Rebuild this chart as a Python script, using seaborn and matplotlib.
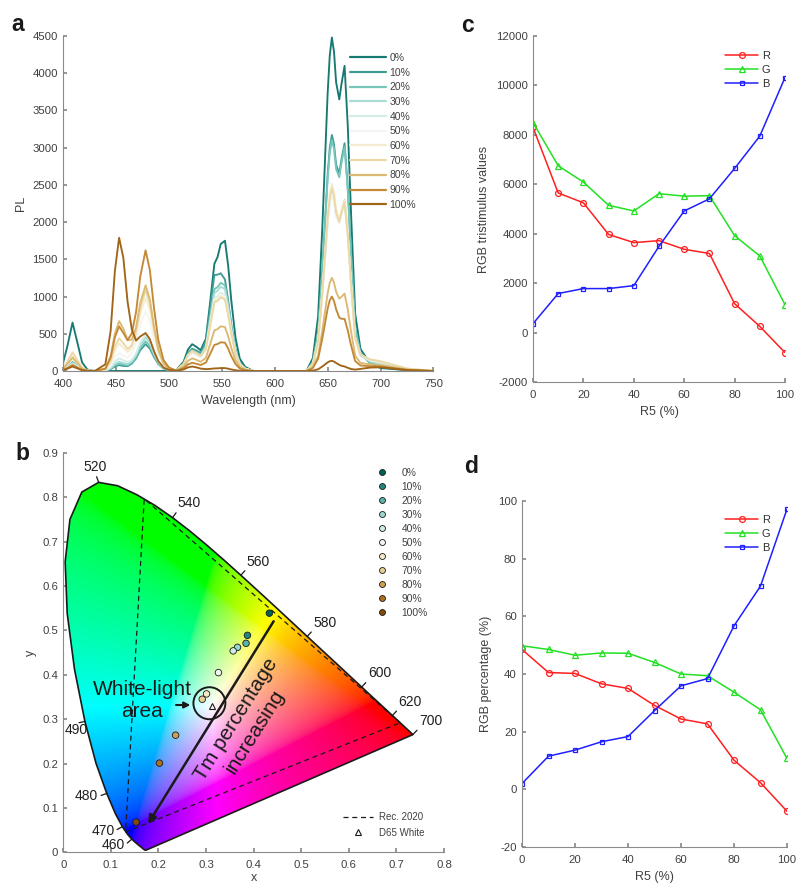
import numpy as np
import pandas as pd
import matplotlib
matplotlib.use('Agg')
import matplotlib.pyplot as plt
from matplotlib.patches import Polygon, Ellipse
from matplotlib.lines import Line2D
import seaborn as sns

sns.set_theme(style='ticks')
plt.rcParams['font.family'] = ['Liberation Sans', 'DejaVu Sans']
plt.rcParams.update({
    'xtick.direction': 'in', 'ytick.direction': 'in',
    'axes.edgecolor': '#8a8a8a', 'xtick.color': '#8a8a8a', 'ytick.color': '#8a8a8a',
    'xtick.labelcolor': '#404040', 'ytick.labelcolor': '#404040',
    'axes.labelcolor': '#404040', 'xtick.labelsize': 8.2, 'ytick.labelsize': 8.2,
    'axes.labelsize': 9, 'axes.linewidth': 0.8,
    'xtick.major.size': 3, 'ytick.major.size': 3,
    'xtick.major.pad': 5.8, 'ytick.major.pad': 3.8,
    'axes.unicode_minus': False,
})

# ---------------- data ----------------
LEVELS = ['0%', '10%', '20%', '30%', '40%', '50%', '60%', '70%', '80%', '90%', '100%']
R5 = [0, 10, 20, 30, 40, 50, 60, 70, 80, 90, 100]

# panel c: RGB tristimulus values
TRI_R = [8300, 5650, 5250, 3970, 3640, 3720, 3370, 3200, 1170, 250, -810]
TRI_G = [8500, 6750, 6090, 5150, 4920, 5620, 5520, 5540, 3920, 3100, 1130]
TRI_B = [360, 1580, 1780, 1780, 1900, 3490, 4920, 5410, 6640, 7950, 10320]

# panel d: RGB percentage
PCT_R = [48.5, 40.5, 40.2, 36.6, 35.0, 29.1, 24.4, 22.7, 10.1, 2.3, -7.6]
PCT_G = [49.8, 48.5, 46.5, 47.3, 47.2, 44.0, 40.0, 39.4, 33.7, 27.6, 10.7]
PCT_B = [2.0, 11.5, 13.6, 16.5, 18.3, 27.3, 35.9, 38.4, 56.7, 70.5, 97.2]

# panel a: wavelength grid, band profiles (normalised) and band heights per level
WL = [400, 404, 409, 414, 418, 423, 430, 440, 445, 449, 453, 457, 461, 465, 469,
      473, 478, 482, 486, 490, 495, 500, 507, 514, 518, 522, 526, 530, 535, 539,
      543, 546, 549, 553, 556, 559, 563, 567, 572, 580, 600, 630, 636, 641, 645,
      650, 652, 654, 656, 658, 661, 663, 666, 669, 672, 676, 681, 690, 700, 710,
      725, 750]

P410_WL = [400, 404, 409, 414, 418, 423, 430]
P410 = [0.16, 0.5, 1.0, 0.55, 0.18, 0.03, 0.0]
P453_WL = [440, 445, 449, 453, 457, 461, 465, 469, 473, 478]
P453 = [0.05, 0.3, 0.75, 1.0, 0.85, 0.5, 0.25, 0.1, 0.04, 0.0]
P478_WL = [461, 465, 469, 473, 478, 482, 486, 490, 495, 500, 507]
P478 = [0.07, 0.22, 0.45, 0.77, 1.0, 0.84, 0.52, 0.26, 0.09, 0.03, 0.0]
P522_WL = [507, 514, 518, 522, 526, 530, 535, 539, 543]
P522 = [0.03, 0.35, 0.8, 1.0, 0.8, 0.5, 0.28, 0.12, 0.0]
P543_WL = [526, 530, 535, 539, 543, 546, 549, 553, 556, 559, 563]
P543 = [0.03, 0.08, 0.27, 0.68, 1.0, 0.85, 0.6, 0.3, 0.12, 0.05, 0.0]
P553_WL = [539, 543, 546, 549, 553, 556, 559, 563, 567, 572, 580]
P553 = [0.03, 0.15, 0.35, 0.7, 1.0, 0.92, 0.64, 0.32, 0.12, 0.04, 0.0]
P654_WL = [630, 636, 641, 645, 650, 652, 654, 656, 658, 661, 663, 666, 669, 672, 676]
P654 = [0.0, 0.04, 0.17, 0.45, 0.85, 0.96, 1.0, 0.9, 0.74, 0.47, 0.3, 0.15, 0.06, 0.02, 0.0]
P666_WL = [650, 652, 654, 656, 658, 661, 663, 666, 669, 672, 676, 681, 690, 700]
P666 = [0.02, 0.03, 0.05, 0.12, 0.2, 0.47, 0.74, 1.0, 0.88, 0.6, 0.22, 0.08, 0.02, 0.0]
P700_WL = [676, 681, 690, 700, 710, 725, 750]
P700 = [0.2, 0.5, 0.9, 1.0, 0.7, 0.25, 0.0]

H410 = [650, 120, 110, 100, 100, 160, 200, 250, 180, 80, 60]
H453 = [0, 80, 100, 125, 170, 240, 370, 440, 670, 600, 1790]
H478 = [0, 360, 400, 450, 490, 800, 980, 1080, 1150, 1620, 510]
H522 = [360, 300, 280, 260, 240, 250, 260, 270, 170, 110, 60]
H543 = [1233, 1158, 971, 927, 866, 848, 832, 813, 478, 307, 30]
H553 = [1380, 883, 859, 822, 760, 746, 720, 716, 447, 288, 30]
H654 = [4307, 3040, 2972, 2332, 2283, 2305, 2424, 2355, 1207, 972, 135]
H666 = [3454, 2604, 2564, 1950, 1938, 1904, 1926, 1907, 859, 554, 40]
H700 = [40, 60, 70, 100, 110, 130, 130, 130, 80, 60, 50]

# panel b: CIE 1931 spectral locus
CIE_WL = [380, 385, 390, 395, 400, 405, 410, 415, 420, 425, 430, 435, 440, 445,
          450, 455, 460, 465, 470, 475, 480, 485, 490, 495, 500, 505, 510, 515,
          520, 525, 530, 535, 540, 545, 550, 555, 560, 565, 570, 575, 580, 585,
          590, 595, 600, 605, 610, 615, 620, 625, 630, 635, 640, 645, 650, 655,
          660, 665, 670, 675, 680, 685, 690, 695, 700]
CIE_X = [0.1741, 0.1740, 0.1738, 0.1736, 0.1733, 0.1730, 0.1726, 0.1721, 0.1714,
         0.1703, 0.1689, 0.1669, 0.1644, 0.1611, 0.1566, 0.1510, 0.1440, 0.1355, 0.1241,
         0.1096, 0.0913, 0.0687, 0.0454, 0.0235, 0.0082, 0.0039, 0.0139, 0.0389, 0.0743,
         0.1142, 0.1547, 0.1929, 0.2296, 0.2658, 0.3016, 0.3373, 0.3731, 0.4087, 0.4441,
         0.4788, 0.5125, 0.5448, 0.5752, 0.6029, 0.6270, 0.6482, 0.6658, 0.6801, 0.6915,
         0.7006, 0.7079, 0.7140, 0.7190, 0.7230, 0.7260, 0.7283, 0.7300, 0.7311, 0.7320,
         0.7327, 0.7334, 0.7340, 0.7344, 0.7346, 0.7347]
CIE_Y = [0.0050, 0.0050, 0.0049, 0.0049, 0.0048, 0.0048, 0.0048, 0.0048, 0.0051,
         0.0058, 0.0069, 0.0086, 0.0109, 0.0138, 0.0177, 0.0227, 0.0297, 0.0399, 0.0578,
         0.0868, 0.1327, 0.2007, 0.2950, 0.4127, 0.5384, 0.6548, 0.7502, 0.8120, 0.8338,
         0.8262, 0.8059, 0.7816, 0.7543, 0.7243, 0.6923, 0.6589, 0.6245, 0.5896, 0.5547,
         0.5202, 0.4866, 0.4544, 0.4242, 0.3965, 0.3725, 0.3514, 0.3340, 0.3197, 0.3083,
         0.2993, 0.2920, 0.2859, 0.2809, 0.2770, 0.2740, 0.2717, 0.2700, 0.2689, 0.2680,
         0.2673, 0.2666, 0.2660, 0.2656, 0.2654, 0.2653]
LOCUS_LABELS = [460, 470, 480, 490, 520, 540, 560, 580, 600, 620, 700]
LABEL_ALIGN = {460: ('right', 'center'), 470: ('right', 'center'), 490: ('center', 'top')}
REC2020_X = [0.708, 0.170, 0.131, 0.708]
REC2020_Y = [0.292, 0.797, 0.046, 0.292]
D65 = (0.3127, 0.3290)
PT_X = [0.433, 0.387, 0.384, 0.366, 0.357, 0.326, 0.301, 0.292, 0.236, 0.202, 0.153]
PT_Y = [0.539, 0.489, 0.471, 0.462, 0.454, 0.405, 0.357, 0.345, 0.264, 0.201, 0.068]

pal_a = sns.color_palette('BrBG_r', 13)[1:-1]
pal_b = sns.color_palette('BrBG_r', 11)
RGB_COLS = ['#ff1f1f', '#22e022', '#1f1fff']

# ---------------- figure ----------------
W, H = 796, 883
fig = plt.figure(figsize=(W / 100, H / 100), dpi=100)


def box(l, t, r, b):
    return [l / W, 1 - b / H, (r - l) / W, (b - t) / H]


axa = fig.add_axes(box(63, 36, 433.5, 371))
axc = fig.add_axes(box(533, 36, 785, 382))
axb = fig.add_axes(box(63.3, 453, 444, 852.3))
axd = fig.add_axes(box(522, 501, 787, 847))
for ax in (axa, axb, axc, axd):
    sns.despine(ax=ax)

# ---- panel a: PL spectra
pos = {w: i for i, w in enumerate(WL)}


def on_grid(wls, vals):
    out = np.zeros(len(WL))
    for w, v in zip(wls, vals):
        out[pos[w]] = v
    return out


bands = [(P410_WL, P410, H410), (P453_WL, P453, H453), (P478_WL, P478, H478),
         (P522_WL, P522, H522), (P543_WL, P543, H543), (P553_WL, P553, H553),
         (P654_WL, P654, H654), (P666_WL, P666, H666), (P700_WL, P700, H700)]
spectra = []
for k in range(len(LEVELS)):
    spectra.append(sum(on_grid(bw, bp) * bh[k] for bw, bp, bh in bands))

df_a = pd.DataFrame({'wl': np.tile(WL, len(LEVELS)),
                     'pl': np.concatenate(spectra),
                     'level': np.repeat(LEVELS, len(WL))})
sns.lineplot(data=df_a, x='wl', y='pl', hue='level', hue_order=LEVELS,
             palette=pal_a, estimator=None, lw=1.35, legend=False, ax=axa)
axa.set_xlim(400, 750)
axa.set_ylim(0, 4500)
axa.set_xticks(range(400, 751, 50))
axa.set_yticks(range(0, 4501, 500))
axa.set_xlabel('Wavelength (nm)')
axa.set_ylabel('PL')
hand_a = [Line2D([], [], color=c, lw=1.6) for c in pal_a]
axa.legend(hand_a, LEVELS, loc='upper left', bbox_to_anchor=(350 / W, 1 - 53 / H),
           bbox_transform=fig.transFigure, frameon=False, fontsize=7.5,
           handlelength=3.5, handletextpad=0.3, labelspacing=0.45,
           borderpad=0, borderaxespad=0, labelcolor='#404040')

# ---- panel c / d: RGB lines


def rgb_panel(ax, series, ylim, yticks, ylabel, leg_top):
    for vals, col, mk, ms in zip(series, RGB_COLS, ['o', '^', 's'], [4.2, 4.4, 3.0]):
        sns.lineplot(x=R5, y=vals, color=col, marker=mk, markersize=ms,
                     markerfacecolor='none', markeredgecolor=col,
                     markeredgewidth=0.9, lw=1.1, ax=ax)
    ax.set_xlim(0, 100)
    ax.set_ylim(*ylim)
    ax.set_xticks(range(0, 101, 20))
    ax.set_yticks(yticks)
    ax.set_xlabel('R5 (%)')
    ax.set_ylabel(ylabel)
    ax.legend(ax.lines[:3], ['R', 'G', 'B'], loc='upper left',
              bbox_to_anchor=(725 / W, 1 - leg_top / H), bbox_transform=fig.transFigure,
              frameon=False, fontsize=8, handlelength=3.0, handletextpad=0.3,
              labelspacing=0.35, borderpad=0, borderaxespad=0, labelcolor='#303030')


rgb_panel(axc, [TRI_R, TRI_G, TRI_B], (-2000, 12000), range(-2000, 12001, 2000),
          'RGB tristimulus values', 51)
rgb_panel(axd, [PCT_R, PCT_G, PCT_B], (-20, 100), range(-20, 101, 20),
          'RGB percentage (%)', 515)

# ---- panel b: CIE chromaticity diagram
gx, gy = np.meshgrid(np.linspace(0, 0.8, 480), np.linspace(0, 0.9, 540))
gyy = np.clip(gy, 1e-3, None)
XYZ = np.stack([gx / gyy, np.ones_like(gx), (1 - gx - gy) / gyy], axis=-1)
M = np.array([[3.2406, -1.5372, -0.4986],
              [-0.9689, 1.8758, 0.0415],
              [0.0557, -0.2040, 1.0570]])
rgb = np.clip(XYZ @ M.T, 0, None)
rgb = rgb / (rgb.max(axis=-1, keepdims=True) + 1e-9)
rgb = np.where(rgb <= 0.0031308, 12.92 * rgb, 1.055 * rgb ** (1 / 2.4) - 0.055)
im = axb.imshow(np.clip(rgb, 0, 1), extent=(0, 0.8, 0, 0.9), origin='lower',
                aspect='auto', interpolation='bilinear', zorder=0)
locus = np.column_stack([CIE_X, CIE_Y])
clip = Polygon(locus, closed=True, transform=axb.transData)
im.set_clip_path(clip)
axb.add_patch(Polygon(locus, closed=True, fill=False, edgecolor='k', lw=1.2, zorder=2))
axb.plot(REC2020_X, REC2020_Y, ls=(0, (4, 3)), color='k', lw=0.9, zorder=2)

sx, sy = 476.0, 443.3
for wl in LOCUS_LABELS:
    i = CIE_WL.index(wl)
    j0, j1 = max(i - 2, 0), min(i + 2, len(CIE_WL) - 1)
    tx = (CIE_X[j1] - CIE_X[j0]) * sx
    ty = (CIE_Y[j1] - CIE_Y[j0]) * sy
    nx, ny = -ty, tx
    nn = np.hypot(nx, ny)
    nx, ny = nx / nn, ny / nn
    x0, y0 = CIE_X[i], CIE_Y[i]
    axb.plot([x0, x0 + nx * 6 / sx], [y0, y0 + ny * 6 / sy], color='k', lw=0.9, zorder=2)
    ha = 'left' if nx > 0.35 else ('right' if nx < -0.35 else 'center')
    va = 'bottom' if ny > 0.35 else ('top' if ny < -0.35 else 'center')
    ha, va = LABEL_ALIGN.get(wl, (ha, va))
    axb.annotate(str(wl), xy=(x0, y0), xytext=(nx * 6.5, ny * 6.5),
                 textcoords='offset points', ha=ha, va=va, fontsize=10,
                 color='#202020', zorder=3)

sns.scatterplot(x=PT_X, y=PT_Y, hue=LEVELS, hue_order=LEVELS, palette=pal_b,
                s=22, edgecolor='k', linewidth=0.6, legend=False, zorder=4, ax=axb)
axb.plot(*D65, marker='^', ms=4.5, mfc='none', mec='k', mew=0.8, ls='none', zorder=4)
axb.add_patch(Ellipse((0.307, 0.336), 0.0672, 0.0722, fill=False, edgecolor='k',
                      lw=1.4, zorder=4))
axb.annotate('', xy=(0.273, 0.332), xytext=(0.231, 0.332),
             arrowprops=dict(arrowstyle='-|>', color='k', lw=1.5, mutation_scale=9),
             zorder=4)
axb.annotate('', xy=(0.175, 0.059), xytext=(0.445, 0.526),
             arrowprops=dict(arrowstyle='-|>', color='k', lw=1.8, mutation_scale=12),
             zorder=4)
axb.text(0.166, 0.342, 'White-light\narea', fontsize=15, ha='center', va='center',
         linespacing=1.15, color='k', zorder=5)
axb.text(0.383, 0.285, 'Tm percentage\nincreasing', fontsize=15, ha='center',
         va='center', rotation=58, rotation_mode='anchor', linespacing=1.25,
         color='k', zorder=5)

axb.set_xlim(0, 0.8)
axb.set_ylim(0, 0.9)
axb.set_xticks(np.arange(0, 0.81, 0.1))
axb.set_yticks(np.arange(0, 0.91, 0.1))
axb.set_xticklabels([f'{v:g}' for v in np.round(np.arange(0, 0.81, 0.1), 1)])
axb.set_yticklabels([f'{v:g}' for v in np.round(np.arange(0, 0.91, 0.1), 1)])
axb.set_xlabel('x', labelpad=1)
axb.set_ylabel('y')

hand_b = [Line2D([], [], ls='none', marker='o', ms=4.3, mfc=c, mec='k', mew=0.6)
          for c in pal_b]
leg_b = axb.legend(hand_b, LEVELS, loc='upper left', bbox_to_anchor=(376 / W, 1 - 468 / H),
                   bbox_transform=fig.transFigure, frameon=False, fontsize=7.4,
                   handlelength=1.2, handletextpad=1.3, labelspacing=0.39,
                   borderpad=0, borderaxespad=0, labelcolor='#404040')
axb.add_artist(leg_b)
hand_b2 = [Line2D([], [], ls=(0, (4, 3)), color='k', lw=0.9),
           Line2D([], [], ls='none', marker='^', ms=4.5, mfc='none', mec='k', mew=0.8)]
axb.legend(hand_b2, ['Rec. 2020', 'D65 White'], loc='upper left',
           bbox_to_anchor=(343 / W, 1 - 812 / H), bbox_transform=fig.transFigure,
           frameon=False, fontsize=7, handlelength=3.1, handletextpad=0.6,
           labelspacing=0.6, borderpad=0, borderaxespad=0, labelcolor='#404040')

# panel letters
for letter, x, y in [('a', 18, 31), ('c', 468, 32), ('b', 22.5, 460), ('d', 471.5, 473)]:
    fig.text(x / W, 1 - y / H, letter, fontsize=16.5, fontweight='bold',
             ha='center', va='baseline', color='k')

fig.savefig('out.png', dpi=100)
